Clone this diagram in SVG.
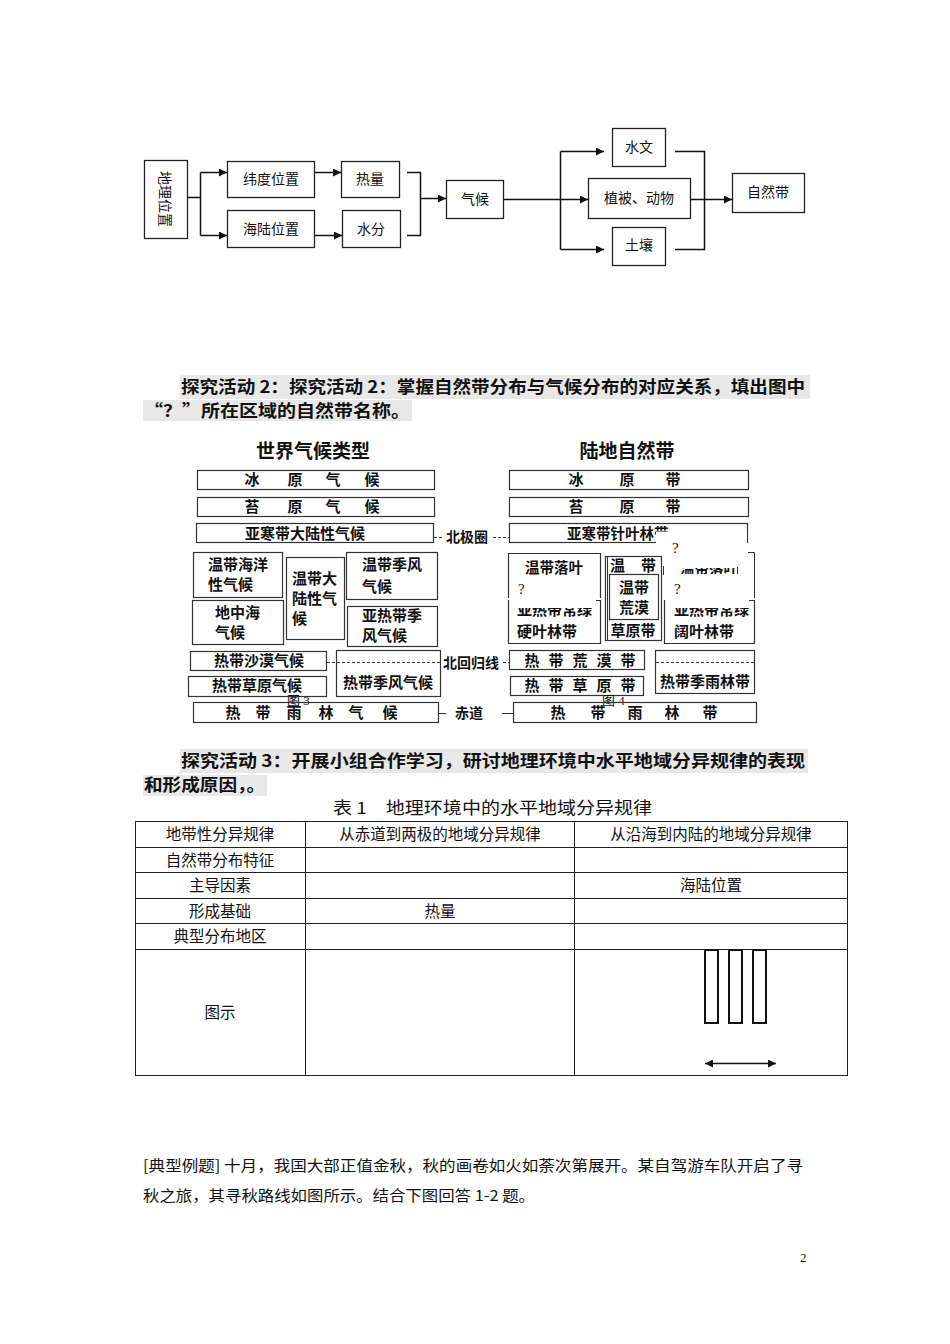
<svg xmlns="http://www.w3.org/2000/svg" width="950" height="1344" viewBox="0 0 950 1344">
<style>
text{font-family:"Noto Sans CJK SC","Noto Sans CJK JP",sans-serif;fill:#111}
.fc{font-size:14px;text-anchor:middle}
.bx{fill:#fff;stroke:#222;stroke-width:1.3}
.ln{fill:none;stroke:#111;stroke-width:1.5}
.cb{fill:none;stroke:#333;stroke-width:1.2}
.ct{font-size:15px;font-weight:bold}
.cm{font-size:15px;font-weight:bold;text-anchor:middle}
.ttl{font-size:19px;font-weight:bold;text-anchor:middle}
.dash{fill:none;stroke:#333;stroke-width:1;stroke-dasharray:3,2}
.sol{fill:none;stroke:#333;stroke-width:1}
.lb{font-size:14px;font-weight:bold}
.fig{font-size:13px;font-family:"Liberation Serif","Noto Sans CJK SC",serif}
.q{font-size:15px;font-family:"Liberation Serif",serif}
.hd{font-size:17px;font-weight:bold}
.hl{fill:#e8e8e8}
.tb{font-size:15.5px;text-anchor:middle}
.tl{fill:none;stroke:#222;stroke-width:1}
.bt{font-size:15px}
</style>
<defs>
<marker id="ah" viewBox="0 0 10 10" refX="10" refY="5" markerWidth="9" markerHeight="8" markerUnits="userSpaceOnUse" orient="auto">
<path d="M0,0 L10,5 L0,10 z" fill="#111"/>
</marker>
<marker id="ah2" viewBox="0 0 10 10" refX="10" refY="5" markerWidth="9" markerHeight="8" markerUnits="userSpaceOnUse" orient="auto-start-reverse">
<path d="M0,0 L10,5 L0,10 z" fill="#111"/>
</marker>
<clipPath id="clA"><rect x="508" y="608" width="92" height="12"/></clipPath>
<clipPath id="clB"><rect x="664" y="608" width="91" height="12"/></clipPath>
<clipPath id="clC"><rect x="670" y="568" width="70" height="6"/></clipPath>
</defs>
<rect width="950" height="1344" fill="#fff"/>

<!-- Flowchart nodes -->
<g id="n-dlwz"><rect class="bx" x="144.5" y="160.5" width="43" height="78"/><text class="fc" transform="translate(165,199) rotate(90)" y="5">地理位置</text></g>
<g id="n-wdwz"><rect class="bx" x="227.5" y="161.5" width="87" height="36"/><text class="fc" x="271" y="184">纬度位置</text></g>
<g id="n-hlwz"><rect class="bx" x="227.5" y="210.5" width="87" height="37"/><text class="fc" x="271" y="234">海陆位置</text></g>
<g id="n-rl"><rect class="bx" x="341.5" y="161.5" width="58" height="36"/><text class="fc" x="370" y="184">热量</text></g>
<g id="n-sf"><rect class="bx" x="342.5" y="210.5" width="58" height="37"/><text class="fc" x="371" y="234">水分</text></g>
<g id="n-qh"><rect class="bx" x="446.5" y="180.5" width="57" height="38"/><text class="fc" x="475" y="204">气候</text></g>
<g id="n-sw"><rect class="bx" x="612.5" y="128.5" width="53" height="38"/><text class="fc" x="639" y="152">水文</text></g>
<g id="n-zb"><rect class="bx" x="588.5" y="178.5" width="102" height="40"/><text class="fc" x="639" y="203">植被、动物</text></g>
<g id="n-tr"><rect class="bx" x="612.5" y="227.5" width="53" height="38"/><text class="fc" x="639" y="250">土壤</text></g>
<g id="n-zrd"><rect class="bx" x="732.5" y="173.5" width="72" height="39"/><text class="fc" x="768" y="197">自然带</text></g>

<!-- Flowchart connectors -->
<g id="connectors">
<path class="ln" d="M187.5,197.5 H200.5 M200.5,172.5 V235.5"/>
<path class="ln" d="M200.5,172.5 H227" marker-end="url(#ah)"/>
<path class="ln" d="M200.5,235.5 H227" marker-end="url(#ah)"/>
<path class="ln" d="M314.5,172.5 H341" marker-end="url(#ah)"/>
<path class="ln" d="M314.5,235.5 H342" marker-end="url(#ah)"/>
<path class="ln" d="M407,172.5 H420.5 V235.5 H407"/>
<path class="ln" d="M420.5,198.5 H446" marker-end="url(#ah)"/>
<path class="ln" d="M503.5,199.5 H588" marker-end="url(#ah)"/>
<path class="ln" d="M560.5,151.5 V249.5"/>
<path class="ln" d="M560.5,151.5 H604" marker-end="url(#ah)"/>
<path class="ln" d="M560.5,249.5 H604" marker-end="url(#ah)"/>
<path class="ln" d="M675,151.5 H704.5 V249.5 H675"/>
<path class="ln" d="M690.5,199.5 H732" marker-end="url(#ah)"/>
</g>

<!-- Activity 2 heading -->
<g id="heading2">
<rect class="hl" x="180" y="375" width="630" height="24"/>
<rect class="hl" x="143" y="400" width="269" height="21"/>
<text class="hd" x="181" y="393" textLength="624" lengthAdjust="spacingAndGlyphs">探究活动 2：探究活动 2：掌握自然带分布与气候分布的对应关系，填出图中</text>
<text class="hd" x="144" y="417" textLength="266" lengthAdjust="spacingAndGlyphs">“？”所在区域的自然带名称。</text>
</g>

<!-- Climate figure (left) -->
<g id="climate">
<text class="ttl" x="313" y="458">世界气候类型</text>
<g id="c-byqh"><rect class="cb" x="197.5" y="470.5" width="237" height="19"/>
<text class="cm" y="485"><tspan x="252">冰</tspan><tspan x="295">原</tspan><tspan x="333">气</tspan><tspan x="372">候</tspan></text></g>
<g id="c-tyqh"><rect class="cb" x="197.5" y="497.5" width="237" height="19"/>
<text class="cm" y="512"><tspan x="252">苔</tspan><tspan x="295">原</tspan><tspan x="333">气</tspan><tspan x="372">候</tspan></text></g>
<g id="c-yhd"><rect class="cb" x="196.5" y="523.5" width="237" height="19"/><text class="cm" x="305" y="539">亚寒带大陆性气候</text></g>
<g id="c-wdhy"><rect class="cb" x="193.5" y="552.5" width="89" height="45"/><text class="ct" x="208" y="570">温带海洋</text><text class="ct" x="208" y="590">性气候</text></g>
<g id="c-dzh"><rect class="cb" x="192.5" y="600.5" width="91" height="44"/><text class="ct" x="215" y="618">地中海</text><text class="ct" x="215" y="638">气候</text></g>
<g id="c-wddl"><rect class="cb" x="286.5" y="557.5" width="58" height="82"/><text class="ct" x="292" y="584">温带大</text><text class="ct" x="292" y="604">陆性气</text><text class="ct" x="292" y="624">候</text></g>
<g id="c-wdjf"><rect class="cb" x="346.5" y="552.5" width="91" height="47"/><text class="ct" x="362" y="570">温带季风</text><text class="ct" x="362" y="592">气候</text></g>
<g id="c-yrdjf"><rect class="cb" x="347.5" y="606.5" width="90" height="40"/><text class="ct" x="362" y="621">亚热带季</text><text class="ct" x="362" y="641">风气候</text></g>
<g id="c-rdsm"><rect class="cb" x="190.5" y="651.5" width="136" height="19"/><text class="cm" x="259" y="666">热带沙漠气候</text></g>
<g id="c-rdjf"><rect class="cb" x="336.5" y="650.5" width="104" height="46"/><text class="cm" x="388" y="688">热带季风气候</text></g>
<g id="c-rdcy"><rect class="cb" x="188.5" y="676.5" width="138" height="20"/><text class="cm" x="257" y="691">热带草原气候</text></g>
<text class="fig" x="287" y="705">图 3</text>
<g id="c-rdyl"><rect class="cb" x="193.5" y="702.5" width="245" height="20"/>
<text class="cm" y="718"><tspan x="233">热</tspan><tspan x="263">带</tspan><tspan x="294">雨</tspan><tspan x="326">林</tspan><tspan x="356">气</tspan><tspan x="390">候</tspan></text></g>
</g>

<!-- latitude labels -->
<g id="latitudes">
<path class="dash" d="M434,537.5 H444"/>
<text class="lb" x="446" y="542">北极圈</text>
<path class="dash" d="M493,537.5 H509"/>
<path class="dash" d="M327,662.5 H442"/>
<text class="lb" x="443" y="668">北回归线</text>
<path class="dash" d="M503,662.5 H509"/>
<path class="sol" d="M438,713.5 H446"/>
<text class="lb" x="455" y="718">赤道</text>
<path class="sol" d="M502,713.5 H513"/>
</g>

<!-- Natural zones figure (right) -->
<g id="zones">
<text class="ttl" x="627" y="458">陆地自然带</text>
<g id="z-byd"><rect class="cb" x="509.5" y="470.5" width="239" height="19"/>
<text class="cm" y="485"><tspan x="576">冰</tspan><tspan x="627">原</tspan><tspan x="673">带</tspan></text></g>
<g id="z-tyd"><rect class="cb" x="509.5" y="497.5" width="239" height="19"/>
<text class="cm" y="512"><tspan x="576">苔</tspan><tspan x="627">原</tspan><tspan x="673">带</tspan></text></g>
<g id="z-yhd"><rect class="cb" x="509.5" y="523.5" width="238" height="19"/><text class="ct" x="567" y="539" style="font-size:14.5px">亚寒带针叶林带</text></g>
<g id="z-yrdyy"><path class="cb" d="M596,600.5 H600.5 V643.5 H508.5 V600"/>
<text class="ct" x="517" y="615" clip-path="url(#clA)">亚热带常绿</text>
<text class="ct" x="517" y="637">硬叶林带</text></g>
<g id="z-wdly"><path class="cb" d="M508.5,598 V553.5 H600.5 V598"/>
<text class="ct" x="525" y="573" style="font-size:14.5px">温带落叶</text>
<text class="q" x="518" y="594">?</text></g>
<g id="z-wdcy"><rect class="cb" x="605.5" y="556.5" width="56" height="84"/><path class="sol" d="M607.5,557 V640"/>
<text class="ct" x="610" y="571">温</text><text class="ct" x="641" y="571">带</text>
<rect class="cb" x="609.5" y="574.5" width="49" height="45"/>
<text class="cm" x="634" y="593">温带</text><text class="cm" x="634" y="613">荒漠</text>
<text class="cm" x="633" y="636">草原带</text></g>
<rect x="656" y="532" width="91" height="12" fill="#fff"/>
<rect x="663" y="532" width="84" height="66" fill="#fff"/>
<g id="z-right-top">
<path class="sol" d="M748,552.5 H754.5 V598 M663.5,566 V575 M737.5,567 V574"/>
<text class="ct" x="680" y="574" style="font-size:14.5px" clip-path="url(#clC)">温带落叶</text>
<text class="q" x="672" y="553">?</text>
<text class="q" x="674" y="594">?</text></g>
<g id="z-yrdky"><path class="cb" d="M749,600.5 H754.5 V643.5 H664.5 V600"/>
<text class="ct" x="674" y="615" clip-path="url(#clB)">亚热带常绿</text>
<text class="ct" x="674" y="637">阔叶林带</text></g>
<g id="z-rdhm"><rect class="cb" x="509.5" y="650.5" width="135" height="19"/>
<text class="cm" y="666"><tspan x="532">热</tspan><tspan x="556">带</tspan><tspan x="580">荒</tspan><tspan x="604">漠</tspan><tspan x="628">带</tspan></text></g>
<g id="z-rdcy"><rect class="cb" x="510.5" y="676.5" width="133" height="19"/>
<text class="cm" y="691"><tspan x="532">热</tspan><tspan x="556">带</tspan><tspan x="580">草</tspan><tspan x="604">原</tspan><tspan x="628">带</tspan></text></g>
<g id="z-rdjyl"><rect class="cb" x="655.5" y="650.5" width="99" height="43"/><path class="dash" d="M656,662.5 H754"/>
<text class="cm" x="705" y="687">热带季雨林带</text></g>
<text class="fig" x="602" y="705">图 4</text>
<g id="z-rdyl"><rect class="cb" x="513.5" y="702.5" width="243" height="20"/>
<text class="cm" y="718"><tspan x="558">热</tspan><tspan x="598">带</tspan><tspan x="635">雨</tspan><tspan x="672">林</tspan><tspan x="710">带</tspan></text></g>
</g>

<!-- Activity 3 heading -->
<g id="heading3">
<rect class="hl" x="180" y="749" width="628" height="24"/>
<rect class="hl" x="143" y="775" width="124" height="21"/>
<text class="hd" x="181" y="767" textLength="624" lengthAdjust="spacingAndGlyphs">探究活动 3：开展小组合作学习，研讨地理环境中水平地域分异规律的表现</text>
<text class="hd" x="144" y="791" textLength="121" lengthAdjust="spacingAndGlyphs">和形成原因，。</text>
</g>

<!-- Table -->
<g id="table">
<text x="333" y="814" style="font-size:16.5px" textLength="319" lengthAdjust="spacingAndGlyphs">表 1　地理环境中的水平地域分异规律</text>
<rect class="tl" x="135.5" y="821.5" width="712" height="254"/>
<path class="tl" d="M135.5,847.5 H847.5 M135.5,872.5 H847.5 M135.5,898.5 H847.5 M135.5,923.5 H847.5 M135.5,949.5 H847.5 M305.5,821.5 V1075.5 M574.5,821.5 V1075.5"/>
<text class="tb" x="220" y="840">地带性分异规律</text>
<text class="tb" x="440" y="840">从赤道到两极的地域分异规律</text>
<text class="tb" x="711" y="840">从沿海到内陆的地域分异规律</text>
<text class="tb" x="220" y="866">自然带分布特征</text>
<text class="tb" x="220" y="891">主导因素</text>
<text class="tb" x="711" y="891">海陆位置</text>
<text class="tb" x="220" y="917">形成基础</text>
<text class="tb" x="440" y="917">热量</text>
<text class="tb" x="220" y="942">典型分布地区</text>
<text class="tb" x="220" y="1018">图示</text>
<rect x="705" y="950" width="13" height="73" fill="#fff" stroke="#111" stroke-width="2"/>
<rect x="729" y="950" width="13" height="73" fill="#fff" stroke="#111" stroke-width="2"/>
<rect x="753" y="950" width="13" height="73" fill="#fff" stroke="#111" stroke-width="2"/>
<path d="M705,1063.5 H776" fill="none" stroke="#111" stroke-width="1.5" marker-start="url(#ah2)" marker-end="url(#ah2)"/>
</g>

<!-- Example text -->
<g id="example">
<text class="bt" x="143" y="1171" textLength="660" lengthAdjust="spacingAndGlyphs">[典型例题] 十月，我国大部正值金秋，秋的画卷如火如荼次第展开。某自驾游车队开启了寻</text>
<text class="bt" x="143" y="1201" textLength="392" lengthAdjust="spacingAndGlyphs">秋之旅，其寻秋路线如图所示。结合下图回答 1-2 题。</text>
<text x="800" y="1262" style="font-size:13px;font-family:'Liberation Serif',serif">2</text>
</g>
</svg>
